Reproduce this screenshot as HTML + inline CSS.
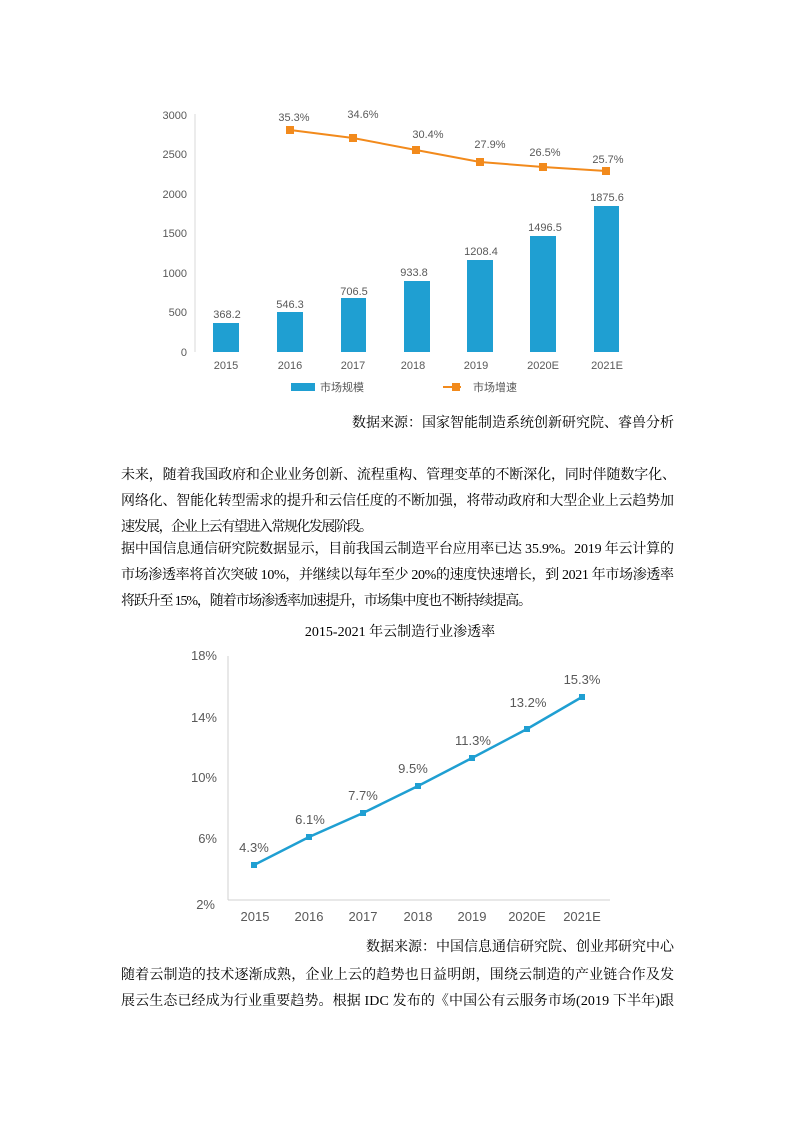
<!DOCTYPE html>
<html><head><meta charset="utf-8"><style>
html,body{margin:0;padding:0;background:#fff;}
svg{display:block;}
.ax{font-family:"Liberation Sans","Noto Sans CJK SC",sans-serif;fill:#595959;}
.tx{font-family:"Liberation Serif","Noto Serif CJK SC",serif;fill:#000;font-size:14px;}
</style></head><body>
<svg width="794" height="1123" viewBox="0 0 794 1123" xmlns="http://www.w3.org/2000/svg">
<!-- Chart 1 -->
<line x1="195" y1="114" x2="195" y2="352" stroke="#d9d9d9" stroke-width="1"/>
<g class="ax" font-size="11" text-anchor="end">
<text x="187" y="119">3000</text><text x="187" y="158">2500</text><text x="187" y="198">2000</text>
<text x="187" y="237">1500</text><text x="187" y="277">1000</text><text x="187" y="316">500</text><text x="187" y="356">0</text>
</g>
<g fill="#1f9fd2">
<rect x="213" y="323" width="26" height="29"/>
<rect x="277" y="312" width="26" height="40"/>
<rect x="341" y="298" width="25" height="54"/>
<rect x="404" y="281" width="26" height="71"/>
<rect x="467" y="260" width="26" height="92"/>
<rect x="530" y="236" width="26" height="116"/>
<rect x="594" y="206" width="25" height="146"/>
</g>
<g class="ax" font-size="11" text-anchor="middle" fill="#404040">
<text x="227" y="318">368.2</text><text x="290" y="308">546.3</text><text x="354" y="295">706.5</text>
<text x="414" y="276">933.8</text><text x="481" y="255">1208.4</text><text x="545" y="231">1496.5</text><text x="607" y="201">1875.6</text>
</g>
<polyline points="290,130 353,138 416,150 480,162 543,167 606,171" fill="none" stroke="#f28a1c" stroke-width="2"/>
<g fill="#f28a1c">
<rect x="286" y="126" width="8" height="8"/><rect x="349" y="134" width="8" height="8"/><rect x="412" y="146" width="8" height="8"/>
<rect x="476" y="158" width="8" height="8"/><rect x="539" y="163" width="8" height="8"/><rect x="602" y="167" width="8" height="8"/>
</g>
<g class="ax" font-size="11" text-anchor="middle" fill="#404040">
<text x="294" y="121">35.3%</text><text x="363" y="118">34.6%</text><text x="428" y="138">30.4%</text>
<text x="490" y="148">27.9%</text><text x="545" y="156">26.5%</text><text x="608" y="163">25.7%</text>
</g>
<g class="ax" font-size="11" text-anchor="middle">
<text x="226" y="369">2015</text><text x="290" y="369">2016</text><text x="353" y="369">2017</text><text x="413" y="369">2018</text>
<text x="476" y="369">2019</text><text x="543" y="369">2020E</text><text x="607" y="369">2021E</text>
</g>
<rect x="291" y="383" width="24" height="8" fill="#1f9fd2"/>
<text class="ax" x="320" y="391" font-size="11">市场规模</text>
<line x1="443" y1="387" x2="461" y2="387" stroke="#f28a1c" stroke-width="2"/>
<rect x="452" y="383" width="8" height="8" fill="#f28a1c"/>
<text class="ax" x="473" y="391" font-size="11">市场增速</text>
<text class="tx" x="674" y="427" text-anchor="end">数据来源：国家智能制造系统创新研究院、睿兽分析</text>
<!-- paragraphs -->
<text class="tx" x="121" y="479" textLength="555" lengthAdjust="spacing">未来，随着我国政府和企业业务创新、流程重构、管理变革的不断深化，同时伴随数字化、</text>
<text class="tx" x="121" y="505" textLength="553" lengthAdjust="spacing">网络化、智能化转型需求的提升和云信任度的不断加强，将带动政府和大型企业上云趋势加</text>
<text class="tx" x="121" y="531" textLength="252" lengthAdjust="spacing">速发展，企业上云有望进入常规化发展阶段。</text>
<text class="tx" x="121" y="553" textLength="553" lengthAdjust="spacing">据中国信息通信研究院数据显示，目前我国云制造平台应用率已达 35.9%。2019 年云计算的</text>
<text class="tx" x="121" y="579" textLength="553" lengthAdjust="spacing">市场渗透率将首次突破 10%，并继续以每年至少 20%的速度快速增长，到 2021 年市场渗透率</text>
<text class="tx" x="121" y="605" textLength="411" lengthAdjust="spacing">将跃升至 15%，随着市场渗透率加速提升，市场集中度也不断持续提高。</text>
<!-- Chart 2 -->
<text class="tx" x="400" y="636" text-anchor="middle" font-size="14">2015-2021 年云制造行业渗透率</text>
<line x1="228" y1="656" x2="228" y2="900" stroke="#d0d0d0"/>
<line x1="228" y1="900" x2="610" y2="900" stroke="#d0d0d0"/>
<g class="ax" font-size="13" text-anchor="end">
<text x="217" y="660">18%</text><text x="217" y="722">14%</text><text x="217" y="782">10%</text>
<text x="217" y="843">6%</text><text x="215" y="909">2%</text>
</g>
<polyline points="254,865 309,837 363,813 418,786 472,758 527,729 582,697" fill="none" stroke="#1f9fd2" stroke-width="2.5"/>
<g fill="#1f9fd2">
<rect x="251" y="862" width="6" height="6"/><rect x="306" y="834" width="6" height="6"/><rect x="360" y="810" width="6" height="6"/>
<rect x="415" y="783" width="6" height="6"/><rect x="469" y="755" width="6" height="6"/><rect x="524" y="726" width="6" height="6"/><rect x="579" y="694" width="6" height="6"/>
</g>
<g class="ax" font-size="13" text-anchor="middle" fill="#404040">
<text x="254" y="852">4.3%</text><text x="310" y="824">6.1%</text><text x="363" y="800">7.7%</text>
<text x="413" y="773">9.5%</text><text x="473" y="745">11.3%</text><text x="528" y="707">13.2%</text><text x="582" y="684">15.3%</text>
</g>
<g class="ax" font-size="13" text-anchor="middle">
<text x="255" y="921">2015</text><text x="309" y="921">2016</text><text x="363" y="921">2017</text><text x="418" y="921">2018</text>
<text x="472" y="921">2019</text><text x="527" y="921">2020E</text><text x="582" y="921">2021E</text>
</g>
<text class="tx" x="674" y="951" text-anchor="end">数据来源：中国信息通信研究院、创业邦研究中心</text>
<text class="tx" x="121" y="979" textLength="553" lengthAdjust="spacing">随着云制造的技术逐渐成熟，企业上云的趋势也日益明朗，围绕云制造的产业链合作及发</text>
<text class="tx" x="121" y="1005" textLength="553" lengthAdjust="spacing">展云生态已经成为行业重要趋势。根据 IDC 发布的《中国公有云服务市场(2019 下半年)跟</text>
</svg>
</body></html>
